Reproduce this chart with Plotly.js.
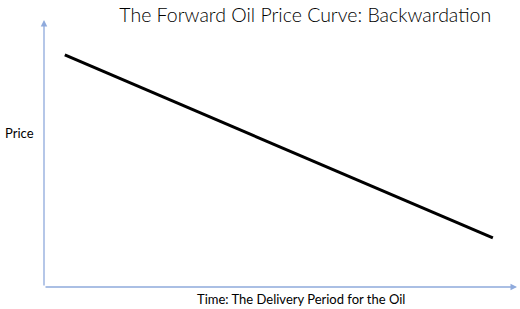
<!DOCTYPE html>
<html>
<head>
<meta charset="utf-8">
<script src="https://cdn.plot.ly/plotly-3.0.1.min.js"></script>
<style>html,body{margin:0;padding:0;background:#fff;}#chart{width:520px;height:309px;}</style>
</head>
<body>
<div id="chart"></div>
<script>
// Data (arbitrary units, axis 0..10)
const time = [0.44, 9.49];
const price = [8.69, 1.84];
const chartTitle = "The Forward Oil Price Curve: Backwardation";
const xLabel = "Time: The Delivery Period for the Oil";
const yLabel = "Price";

const axisColor = "#8FAADC";

const trace = {
  x: time, y: price, mode: "lines", type: "scatter",
  line: {color: "#000000", width: 3}, hoverinfo: "skip", showlegend: false
};

const layout = {
  width: 520, height: 309,
  margin: {l: 44, r: 3, t: 20, b: 22},
  paper_bgcolor: "#ffffff", plot_bgcolor: "#ffffff",
  title: {
    text: chartTitle,
    font: {family: "Lato, 'Open Sans', sans-serif", size: 19.5, color: "#000000", weight: 300},
    x: 0.587, xref: "container", xanchor: "center",
    y: 0.952, yref: "container", yanchor: "middle"
  },
  xaxis: {range: [0, 10], showgrid: false, zeroline: false, showticklabels: false, ticks: "", showline: false, fixedrange: true},
  yaxis: {range: [0, 10], showgrid: false, zeroline: false, showticklabels: false, ticks: "", showline: false, fixedrange: true},
  annotations: [
    {x: 10, y: 0, ax: 0, ay: 0, xref: "x", yref: "y", axref: "x", ayref: "y", text: "",
     showarrow: true, arrowhead: 2, arrowsize: 1, arrowwidth: 1.3, arrowcolor: axisColor},
    {x: 0, y: 10, ax: 0, ay: 0, xref: "x", yref: "y", axref: "x", ayref: "y", text: "",
     showarrow: true, arrowhead: 2, arrowsize: 1, arrowwidth: 1.3, arrowcolor: axisColor},
    {text: xLabel, showarrow: false,
     font: {family: "Lato, 'Open Sans', sans-serif", size: 13, color: "#000000"}},
    {text: yLabel, showarrow: false,
     font: {family: "Lato, 'Open Sans', sans-serif", size: 13, color: "#000000"}}
  ]
};
// position label annotations in paper coordinates derived from pixel positions
const plotW = 520 - 44 - 3, plotH = 309 - 20 - 22;
layout.annotations[2].xref = "paper"; layout.annotations[2].yref = "paper";
layout.annotations[2].x = (301 - 44) / plotW;
layout.annotations[2].y = (287 - 299) / plotH;
layout.annotations[2].xanchor = "center"; layout.annotations[2].yanchor = "middle";
layout.annotations[3].xref = "paper"; layout.annotations[3].yref = "paper";
layout.annotations[3].x = (3 - 44) / plotW;
layout.annotations[3].y = (287 - 133) / plotH;
layout.annotations[3].xanchor = "left"; layout.annotations[3].yanchor = "middle";

Plotly.newPlot("chart", [trace], layout, {staticPlot: true, displayModeBar: false});
</script>
</body>
</html>
